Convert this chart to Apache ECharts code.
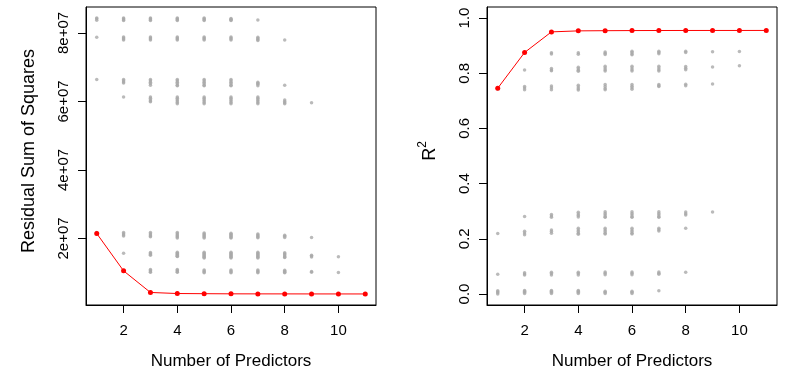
<!DOCTYPE html>
<html><head><meta charset="utf-8">
<script src="https://cdn.jsdelivr.net/npm/echarts@6/dist/echarts.min.js"></script>
<style>html,body{margin:0;padding:0;background:#fff}#c{width:790px;height:384px}</style>
</head><body><div id="c"></div>
<script>
// Number of predictors (x axis)
const predictors = [1, 2, 3, 4, 5, 6, 7, 8, 9, 10, 11];
const xTicks = [2, 4, 6, 8, 10];

// Best model for each size (red)
const rssBest = [21435122, 10532541, 4227219, 3915058, 3866091, 3821620, 3810759, 3804746, 3798367, 3791345, 3786730];
const r2Best = [0.7458, 0.8751, 0.9498, 0.9535, 0.9541, 0.9546, 0.9548, 0.9549, 0.9550, 0.9550, 0.9551];

// All models, RSS, by number of predictors (grey)
const rss1 = [8.434e7, 8.41e7, 8.37e7, 7.87e7, 6.64e7, 2.17e7];
const rss2 = [8.434e7, 8.41e7, 8.385e7, 8.36e7, 7.88e7, 7.85e7, 7.82e7, 7.79e7, 6.64e7, 6.60e7, 6.57e7, 6.54e7, 6.13e7, 2.17e7, 2.14e7, 2.10e7, 2.07e7, 1.57e7];
const rss3 = [8.434e7, 8.41e7, 8.385e7, 8.36e7, 7.88e7, 7.85e7, 7.82e7, 7.79e7, 6.64e7, 6.60e7, 6.56e7, 6.52e7, 6.47e7, 6.13e7, 6.09e7, 6.05e7, 6.01e7, 5.99e7, 2.17e7, 2.14e7, 2.10e7, 2.07e7, 2.05e7, 1.59e7, 1.56e7, 1.53e7, 1.51e7, 1.09e7, 1.06e7, 1.03e7, 1.015e7, 0.43e7];
const rss4 = [8.434e7, 8.41e7, 8.385e7, 8.36e7, 7.88e7, 7.85e7, 7.82e7, 7.79e7, 6.64e7, 6.60e7, 6.56e7, 6.52e7, 6.47e7, 6.46e7, 6.13e7, 6.09e7, 6.05e7, 6.01e7, 5.97e7, 5.93e7, 2.17e7, 2.14e7, 2.10e7, 2.07e7, 2.04e7, 2.01e7, 1.60e7, 1.57e7, 1.54e7, 1.51e7, 1.48e7, 1.47e7, 1.09e7, 1.06e7, 1.03e7, 1.015e7, 0.40e7];
const rss5 = [8.434e7, 8.41e7, 8.385e7, 8.36e7, 7.88e7, 7.85e7, 7.82e7, 7.79e7, 6.64e7, 6.60e7, 6.56e7, 6.52e7, 6.47e7, 6.46e7, 6.13e7, 6.09e7, 6.05e7, 6.01e7, 5.97e7, 5.93e7, 2.16e7, 2.13e7, 2.10e7, 2.07e7, 2.04e7, 2.01e7, 1.60e7, 1.57e7, 1.54e7, 1.51e7, 1.48e7, 1.45e7, 1.43e7, 1.08e7, 1.05e7, 1.02e7, 1.0e7, 0.39e7];
const rss6 = [8.42e7, 8.40e7, 8.38e7, 8.36e7, 7.88e7, 7.85e7, 7.82e7, 7.79e7, 6.64e7, 6.60e7, 6.56e7, 6.52e7, 6.47e7, 6.46e7, 6.13e7, 6.09e7, 6.05e7, 6.01e7, 5.97e7, 5.93e7, 2.15e7, 2.12e7, 2.09e7, 2.06e7, 2.03e7, 2.01e7, 1.60e7, 1.57e7, 1.54e7, 1.51e7, 1.48e7, 1.45e7, 1.43e7, 1.08e7, 1.05e7, 1.02e7, 1.0e7, 0.385e7];
const rss7 = [8.38e7, 7.87e7, 7.84e7, 7.81e7, 7.78e7, 6.56e7, 6.53e7, 6.50e7, 6.46e7, 6.13e7, 6.09e7, 6.05e7, 6.01e7, 5.97e7, 5.93e7, 2.13e7, 2.10e7, 2.07e7, 2.04e7, 2.02e7, 1.60e7, 1.57e7, 1.54e7, 1.51e7, 1.48e7, 1.45e7, 1.43e7, 1.08e7, 1.05e7, 1.02e7, 1.0e7, 0.383e7];
const rss8 = [7.79e7, 6.47e7, 6.04e7, 6.00e7, 5.96e7, 5.93e7, 2.09e7, 2.06e7, 2.03e7, 1.58e7, 1.55e7, 1.52e7, 1.49e7, 1.46e7, 1.44e7, 1.07e7, 1.04e7, 1.01e7, 1.0e7, 0.382e7];
const rss9 = [5.96e7, 2.03e7, 1.51e7, 1.485e7, 1.46e7, 1.035e7, 1.01e7, 0.381e7];
const rss10 = [1.464e7, 1.007e7, 0.38e7];

// All models, R^2, by number of predictors (grey)
const r2_1 = [0.0, 0.004, 0.008, 0.012, 0.071, 0.219, 0.743];
const r2_2 = [0.002, 0.006, 0.010, 0.013, 0.077, 0.072, 0.069, 0.227, 0.221, 0.215, 0.2805, 0.752, 0.746, 0.740, 0.812];
const r2_3 = [0.002, 0.006, 0.010, 0.013, 0.079, 0.074, 0.069, 0.232, 0.226, 0.220, 0.288, 0.283, 0.278, 0.754, 0.747, 0.740, 0.817, 0.812, 0.809, 0.874, 0.870, 0.948];
const r2_4 = [0.002, 0.006, 0.010, 0.013, 0.079, 0.074, 0.069, 0.238, 0.232, 0.226, 0.220, 0.216, 0.296, 0.290, 0.284, 0.279, 0.756, 0.750, 0.744, 0.739, 0.822, 0.816, 0.811, 0.807, 0.874, 0.869, 0.953];
const r2_5 = [0.002, 0.006, 0.010, 0.080, 0.075, 0.070, 0.238, 0.232, 0.226, 0.220, 0.217, 0.298, 0.292, 0.286, 0.280, 0.278, 0.759, 0.752, 0.745, 0.740, 0.825, 0.819, 0.813, 0.808, 0.877, 0.872, 0.868, 0.954];
const r2_6 = [0.002, 0.006, 0.010, 0.080, 0.075, 0.070, 0.238, 0.232, 0.226, 0.220, 0.217, 0.298, 0.292, 0.286, 0.280, 0.278, 0.759, 0.753, 0.747, 0.742, 0.825, 0.819, 0.813, 0.808, 0.880, 0.875, 0.870, 0.867, 0.9546];
const r2_7 = [0.012, 0.080, 0.075, 0.071, 0.238, 0.233, 0.228, 0.298, 0.292, 0.286, 0.280, 0.278, 0.759, 0.755, 0.752, 0.825, 0.819, 0.813, 0.808, 0.880, 0.875, 0.871, 0.9548];
const r2_8 = [0.079, 0.238, 0.297, 0.291, 0.286, 0.760, 0.755, 0.824, 0.818, 0.813, 0.880, 0.875, 0.9549];
const r2_9 = [0.297, 0.761, 0.823, 0.878, 0.955];
const r2_10 = [0.827, 0.879, 0.955];

// Axis ticks
const rssTicks = [2e7, 4e7, 6e7, 8e7];
const rssTickLabels = ['2e+07', '4e+07', '6e+07', '8e+07'];
const r2Ticks = [0, 0.2, 0.4, 0.6, 0.8, 1.0];
const r2TickLabels = ['0.0', '0.2', '0.4', '0.6', '0.8', '1.0'];

const rssAll = [rss1, rss2, rss3, rss4, rss5, rss6, rss7, rss8, rss9, rss10];
const r2All = [r2_1, r2_2, r2_3, r2_4, r2_5, r2_6, r2_7, r2_8, r2_9, r2_10];
function flatten(groups) {
  const out = [];
  groups.forEach((vals, i) => vals.forEach(v => out.push([predictors[i], v])));
  return out;
}

const FONT = 'Liberation Sans, Arial, Helvetica, sans-serif';
function xAxisCfg(idx) {
  return {
    type: 'value', gridIndex: idx, min: 0.6, max: 11.4,
    splitLine: {show: false},
    axisLine: {show: true, onZero: false, lineStyle: {color: '#000', width: 1}},
    axisTick: {show: true, inside: false, length: 8, customValues: xTicks, lineStyle: {color: '#000'}},
    axisLabel: {customValues: xTicks, margin: 18, fontSize: 15, color: '#000', fontFamily: FONT},
    name: 'Number of Predictors', nameLocation: 'middle', nameGap: 48,
    nameTextStyle: {fontSize: 17, color: '#000', fontFamily: FONT}
  };
}
function yAxisCfg(idx, min, max, ticks, labels, name, nameStyle) {
  return {
    type: 'value', gridIndex: idx, min: min, max: max,
    splitLine: {show: false},
    axisLine: {show: true, onZero: false, lineStyle: {color: '#000', width: 1}},
    axisTick: {show: true, inside: false, length: 8, customValues: ticks, lineStyle: {color: '#000'}},
    axisLabel: {customValues: ticks, rotate: 90, margin: 15, fontSize: 15, color: '#000', fontFamily: FONT,
      formatter: v => { const i = ticks.findIndex(t => Math.abs(t - v) < 1e-9 * Math.max(1, Math.abs(t))); return i >= 0 ? labels[i] : ''; }},
    name: name, nameLocation: 'middle', nameGap: 48, nameRotate: 90,
    nameTextStyle: nameStyle
  };
}

const chart = echarts.init(document.getElementById('c'), null, {renderer: 'canvas'});
chart.setOption({
  animation: false,
  backgroundColor: '#fff',
  grid: [
    {left: 86, top: 7, width: 290, height: 298, show: true, borderColor: '#000', borderWidth: 1},
    {left: 487, top: 7, width: 290, height: 298, show: true, borderColor: '#000', borderWidth: 1}
  ],
  xAxis: [xAxisCfg(0), xAxisCfg(1)],
  yAxis: [
    yAxisCfg(0, 564603, 87562039, rssTicks, rssTickLabels, 'Residual Sum of Squares',
      {fontSize: 18, color: '#000', fontFamily: FONT, padding: [0, 0, 0, 10]}),
    yAxisCfg(1, -0.04, 1.04, r2Ticks, r2TickLabels, '{r|R}{s|2}',
      {color: '#000', fontFamily: FONT, padding: [0, 0, 0, 10],
       rich: {r: {fontSize: 18, fontFamily: FONT, color: '#000', lineHeight: 22, verticalAlign: 'bottom'},
              s: {fontSize: 12, fontFamily: FONT, color: '#000', lineHeight: 22, verticalAlign: 'top', padding: [0, 0, 6, 0]}}})
  ],
  series: [
    {type: 'scatter', xAxisIndex: 0, yAxisIndex: 0, data: flatten(rssAll), symbolSize: 3.5,
      itemStyle: {color: '#a9a9a9'}, silent: true},
    {type: 'scatter', xAxisIndex: 1, yAxisIndex: 1, data: flatten(r2All), symbolSize: 3.5,
      itemStyle: {color: '#a9a9a9'}, silent: true},
    {type: 'line', xAxisIndex: 0, yAxisIndex: 0, data: predictors.map((k, i) => [k, rssBest[i]]),
      symbol: 'circle', symbolSize: 5, showSymbol: true, lineStyle: {color: '#ff0000', width: 1},
      itemStyle: {color: '#ff0000'}, z: 5},
    {type: 'line', xAxisIndex: 1, yAxisIndex: 1, data: predictors.map((k, i) => [k, r2Best[i]]),
      symbol: 'circle', symbolSize: 5, showSymbol: true, lineStyle: {color: '#ff0000', width: 1},
      itemStyle: {color: '#ff0000'}, z: 5}
  ]
});
</script></body></html>
